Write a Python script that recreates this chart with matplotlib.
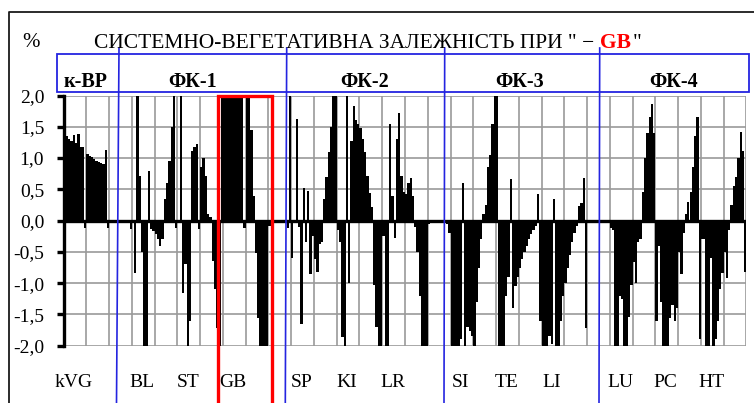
import numpy as np
import matplotlib
matplotlib.use("Agg")
import matplotlib.pyplot as plt
from matplotlib.patches import Rectangle
from matplotlib import transforms

plt.rcParams["font.family"] = ["Liberation Serif", "DejaVu Serif"]

# Relative deviations (fractions shown as 0..2 on the % axis), 10 bars per grid cell
kvg = [1.40, 1.36, 1.30, 1.27, 1.37, 1.24, 1.38, 1.18, 1.17, -0.12, 1.06, 1.04,
       1.01, 0.98, 0.96, 0.94, 0.92, 0.90, 1.13, -0.12, 0, 0, 0]
bl = [0, 0, 0, 0, 0, 0, -0.13, 0, -0.84, 2.0, 0.72, -0.5, -2.0, -2.0, 0.8, -0.14,
      -0.16, -0.22, -0.3, -0.4, -0.3, 0.35]
st = [0.6, 0.95, 1.5, 2.0, -0.12, 0, 2.0, -1.16, -0.7, -2.0, -1.6, 1.12, 1.18,
      1.22, -0.13, 0.85, 1.0, 0.72, 0.1, 0.05, -0.65, -1.1, -1.72]
gb = [-2.0, 2.0, 2.0, 2.0, 2.0, 2.0, 2.0, 2.0, 2.0, 2.0, 2.0, -0.12, 2.0, 2.0,
      1.45, 0.4, -0.52, -1.55, -2.0, -2.0, -2.0, -2.0, -0.08, 0, 0, 0, 0, 0]
sp = [0, 0, -0.12, 2.0, -0.6, 0, 1.63, -0.1, -1.65, 0.52, -0.35, 0.47, -0.85,
      -0.25, -0.62, -0.82, -0.38, -0.35, 0.34]
ki = [0.7, 1.1, 1.5, 2.0, 2.0, -0.15, -0.35, -1.86, -2.0, 2.0, -1.0, 1.28, 1.83,
      1.61, 1.55, 1.48, 1.3, 1.1, 0.71, 0.44, 0.22]
lr = [-1.03, -1.7, -2.0, -2.0, -0.25, -2.0, -2.0, 1.55, 0.4, -0.28, 1.3, 1.72,
      0.72, 0.45, 0.42, 0.6, 0.68, 0.4, -0.1, -0.5, -1.2, -2.0, -2.0, -2.0,
      -0.05, 0, 0, 0]
si = [0, 0, 0, 0, -0.05, -0.2, -2.0, -2.0, -2.0, -2.0, -1.9, 0.6, -2.0, -1.7,
      -1.76, -1.85, -2.0, -1.3, -0.75, -0.3, 0.1, 0.25, 0.85, 1.05, 1.55, 2.0, 2.0]
te = [-2.0, -2.0, -2.0, -1.2, -0.9, 0.66, -1.4, -1.05, -0.9, -0.75, -0.62, -0.5,
      -0.4, -0.3, -0.22, -0.15, -0.08, 0.42, -1.6]
li = [-2.0, -2.0, -2.0, -1.85, -1.97, 0.35, -2.0, -2.0, -1.6, -1.2, -1.0, -0.75,
      -0.55, -0.35, -0.2, -0.08, 0.24, 0.28, 0.68, -1.72, 0, 0, 0, 0, 0, 0]
lu = [0, 0, 0, 0, -0.12, -0.15, -2.0, -2.0, -1.2, -1.25, -2.0, -2.0, -1.54,
      -1.03, -0.66, -1.0, -0.35, -0.3, 0.45, 1.0, 1.4, 1.65, 1.87, 1.4]
pc = [-1.6, -0.4, -1.3, -2.0, -2.0, -2.0, -1.55, -1.35, -1.6, -1.4, -0.5, -0.85,
      -0.2, 0.1, 0.3, 0.45, 0.85, 1.36, 1.66]
ht = [-1.9, -0.3, -0.3, -2.0, -2.0, -0.6, -2.0, -1.9, -1.6, -1.1, -0.84, -0.5,
      -0.92, -0.15, 0.25, 0.55, 0.7, 1.0, 1.42, 1.12, -0.82]

blocks = [kvg, bl, st, gb, sp, ki, lr, si, te, li, lu, pc, ht]
values = np.concatenate([np.asarray(b, dtype=float) for b in blocks])

block_labels = ["kVG", "BL", "ST", "GB", "SP", "KI", "LR", "SI", "TE", "LI",
                "LU", "PC", "HT"]
block_label_pos = [4.5, 34.5, 54.5, 74.5, 104.5, 124.5, 144.5, 174.5, 194.5,
                   214.5, 244.5, 264.5, 284.5]
group_labels = ["к-ВР", "ФК-1", "ФК-2", "ФК-3", "ФК-4"]
yticks = [-2.0, -1.5, -1.0, -0.5, 0.0, 0.5, 1.0, 1.5, 2.0]

W, H = 754, 403
fig = plt.figure(figsize=(W / 100, H / 100), dpi=100)
fig.patch.set_facecolor("white")

# plot area in pixel terms
x0, x1, ytop, ybot = 63.6, 746.4, 95.5, 345.7
ax = fig.add_axes([x0 / W, 1 - ybot / H, (x1 - x0) / W, (ybot - ytop) / H])
n = len(values)
ax.bar(np.arange(n) + 0.5, values, width=1.0, color="black", linewidth=0,
       zorder=3)
ax.set_xlim(0, 300)
ax.set_ylim(-2, 2)
ax.axhline(0, color="black", lw=2.4, zorder=4)

ax.set_yticks(yticks)
ax.set_yticklabels([f"{v:.1f}".replace(".", ",") if v != 0 else "0,0"
                    for v in yticks])
ax.set_xticks(np.arange(0, 301, 10), minor=True)
ax.set_xticks([])
ax.tick_params(axis="x", which="both", length=0)
ax.tick_params(axis="y", length=5, width=2.4, pad=9, labelsize=14,
               direction="out", color="black")
ax.grid(which="minor", axis="x", color="#9a9a9a", lw=1.2, zorder=0)
ax.grid(which="major", axis="y", color="#9a9a9a", lw=1.2, zorder=0)
ax.set_axisbelow(True)
for side in ("top", "right", "bottom"):
    ax.spines[side].set_visible(False)
ax.spines["left"].set_linewidth(2.4)
ax.spines["left"].set_zorder(5)

# subsystem names under the axis
lab_tr = transforms.blended_transform_factory(ax.transData, fig.transFigure)
for name, xp in zip(block_labels, block_label_pos):
    ax.text(xp, 1 - 387 / H, name, transform=lab_tr, ha="center",
            va="baseline", fontsize=14, clip_on=False)

# overlay in pixel coordinates for frame, boxes and headings
ov = fig.add_axes([0, 0, 1, 1], zorder=10)
ov.set_xlim(0, W)
ov.set_ylim(H, 0)
ov.axis("off")
ov.patch.set_alpha(0)

ov.plot([9, 9, W], [H, 12, 12], color="#1a1a1a", lw=1.3)

blue = "#2424e0"
ov.add_patch(Rectangle((57.3, 54.3), 692.0, 37.7, fill=False, edgecolor=blue,
                       lw=1.3))
for (xa, xb) in [(119.0, 116.5), (286.7, 285.3), (444.7, 444.0), (599.7, 599.0)]:
    ov.plot([xa, xb], [48, H], color=blue, lw=1.2)

ov.plot([218.3, 218.3, 272.0, 272.0], [H, 95.5, 95.5, H], color="#ff0000",
        lw=2.4, solid_joinstyle="miter")

for name, xc in zip(group_labels, [86, 192.5, 365, 519.5, 674]):
    ov.text(xc, 87, name, ha="center", va="baseline", fontsize=14.5,
            fontweight="bold")

ov.text(22, 47, "%", ha="left", va="baseline", fontsize=15)

renderer = fig.canvas.get_renderer()
t1 = ov.text(94.3, 48, "СИСТЕМНО-ВЕГЕТАТИВНА ЗАЛЕЖНІСТЬ ПРИ \" \u2212",
             ha="left", va="baseline", fontsize=15)
w = t1.get_window_extent(renderer).width
t1.set_fontsize(15 * 503.0 / w)
fs = t1.get_fontsize()
t2 = ov.annotate("GB", xy=(1, 0), xycoords=t1, xytext=(5.5, 0),
                 textcoords="offset pixels", ha="left", va="bottom",
                 fontsize=fs, fontweight="bold", color="#ff0000")
ov.annotate("\"", xy=(1, 0), xycoords=t2, xytext=(1.5, 0),
            textcoords="offset pixels", ha="left", va="bottom", fontsize=fs)

fig.savefig("out.png", dpi=100)
